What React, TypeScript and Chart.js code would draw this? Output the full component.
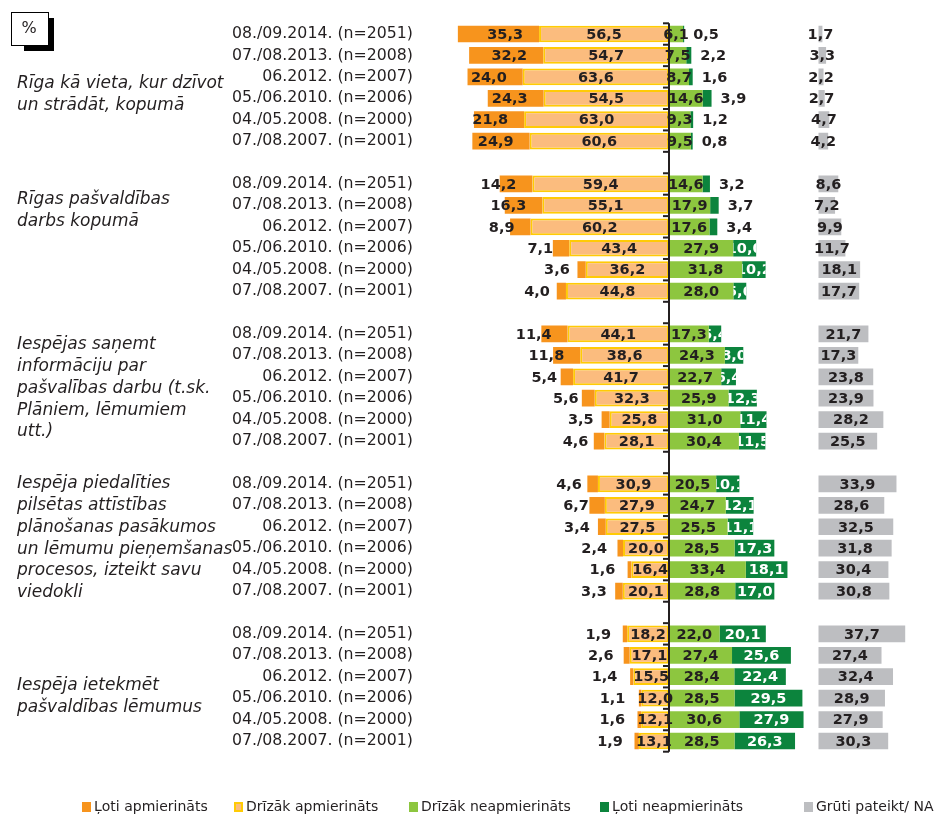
import React, { useEffect, useRef } from 'react';
import { Chart, registerables } from 'chart.js';

Chart.register(...registerables);

// ---------- DATA ----------
const periods = [
  '08./09.2014. (n=2051)',
  '07./08.2013. (n=2008)',
  '06.2012. (n=2007)',
  '05./06.2010. (n=2006)',
  '04./05.2008. (n=2000)',
  '07./08.2007. (n=2001)',
];

const groupNames = [
  ['Rīga kā vieta, kur dzīvot', 'un strādāt, kopumā'],
  ['Rīgas pašvaldības', 'darbs kopumā'],
  ['Iespējas saņemt', 'informāciju par', 'pašvalības darbu (t.sk.', 'Plāniem, lēmumiem', 'utt.)'],
  ['Iespēja piedalīties', 'pilsētas attīstības', 'plānošanas pasākumos', 'un lēmumu pieņemšanas', 'procesos, izteikt savu', 'viedokli'],
  ['Iespēja ietekmēt', 'pašvaldības lēmumus'],
];

const seriesNames = [
  'Ļoti apmierināts',
  'Drīzāk apmierināts',
  'Drīzāk neapmierināts',
  'Ļoti neapmierināts',
  'Grūti pateikt/ NA',
];

// rows per group: 2014, 2013, 2012, 2010, 2008, 2007
const veryS = [
  35.3, 32.2, 24.0, 24.3, 21.8, 24.9,
  14.2, 16.3, 8.9, 7.1, 3.6, 4.0,
  11.4, 11.8, 5.4, 5.6, 3.5, 4.6,
  4.6, 6.7, 3.4, 2.4, 1.6, 3.3,
  1.9, 2.6, 1.4, 1.1, 1.6, 1.9,
];
const ratherS = [
  56.5, 54.7, 63.6, 54.5, 63.0, 60.6,
  59.4, 55.1, 60.2, 43.4, 36.2, 44.8,
  44.1, 38.6, 41.7, 32.3, 25.8, 28.1,
  30.9, 27.9, 27.5, 20.0, 16.4, 20.1,
  18.2, 17.1, 15.5, 12.0, 12.1, 13.1,
];
const ratherD = [
  6.1, 7.5, 8.7, 14.6, 9.3, 9.5,
  14.6, 17.9, 17.6, 27.9, 31.8, 28.0,
  17.3, 24.3, 22.7, 25.9, 31.0, 30.4,
  20.5, 24.7, 25.5, 28.5, 33.4, 28.8,
  22.0, 27.4, 28.4, 28.5, 30.6, 28.5,
];
const veryD = [
  0.5, 2.2, 1.6, 3.9, 1.2, 0.8,
  3.2, 3.7, 3.4, 10.0, 10.2, 5.6,
  5.4, 8.0, 6.4, 12.3, 11.4, 11.5,
  10.1, 12.1, 11.1, 17.3, 18.1, 17.0,
  20.1, 25.6, 22.4, 29.5, 27.9, 26.3,
];
const hard = [
  1.7, 3.3, 2.2, 2.7, 4.7, 4.2,
  8.6, 7.2, 9.9, 11.7, 18.1, 17.7,
  21.7, 17.3, 23.8, 23.9, 28.2, 25.5,
  33.9, 28.6, 32.5, 31.8, 30.4, 30.8,
  37.7, 27.4, 32.4, 28.9, 27.9, 30.3,
];

// ---------- LAYOUT / STYLE ----------
const COLORS = ['#F7941D', '#FBBC7E', '#8DC63F', '#0C843D', '#BDBEC1'];
const YELLOW = '#FFCB05';
const TEXT = '#231F20';
const HARD_START = 65; // x-position (in % units) where the "Grūti pateikt" column begins
const groupLabelOffsets = [50, 16, 11, 0, 52];
const LINE_H = 21.75;
const legendX = [82, 234, 409, 600, 804];

// categories: 6 rows per group + empty spacer row between groups
const labels: string[] = [];
const rowOf: number[] = [];
groupNames.forEach((_, g) => {
  periods.forEach((p, r) => {
    labels.push(p);
    rowOf.push(g * 6 + r);
  });
  if (g < groupNames.length - 1) {
    labels.push('');
    rowOf.push(-1);
  }
});

const build = (fn: (i: number) => [number, number]) =>
  rowOf.map((i) => (i < 0 ? null : fn(i)));

const fmt = (v: number) => v.toFixed(1).replace('.', ',');

const valueFont = "bold 14.5px 'DejaVu Sans'";

const labelPlugin = {
  id: 'valueLabels',
  afterDatasetsDraw(chart: any) {
    const ctx = chart.ctx as CanvasRenderingContext2D;
    const metas = [0, 1, 2, 3, 4].map((i) => chart.getDatasetMeta(i));
    const x0 = chart.scales.x.getPixelForValue(0);
    const area = chart.chartArea;
    const yS = chart.scales.y;
    const step = yS.getPixelForValue(1) - yS.getPixelForValue(0);

    // centre line with ticks
    ctx.save();
    ctx.strokeStyle = TEXT;
    ctx.lineWidth = 2;
    ctx.beginPath();
    ctx.moveTo(x0, area.top);
    ctx.lineTo(x0, area.bottom);
    ctx.stroke();
    groupNames.forEach((_, g) => {
      const yc = yS.getPixelForValue(g * 7);
      for (let r = 0; r <= 6; r++) {
        const y = yc - step / 2 + r * step;
        ctx.beginPath();
        ctx.moveTo(x0 - 6, y);
        ctx.lineTo(x0, y);
        ctx.stroke();
      }
    });
    ctx.restore();

    ctx.save();
    ctx.font = valueFont;
    ctx.textBaseline = 'middle';
    const series = [veryS, ratherS, ratherD, veryD, hard];
    rowOf.forEach((ri, ci) => {
      if (ri < 0) return;
      const els = metas.map((m) => m.data[ci]);
      const rect = (el: any) => ({
        l: Math.min(el.x, el.base),
        r: Math.max(el.x, el.base),
        y: el.y,
        h: el.height,
      });
      const r1 = rect(els[1]);
      const r2 = rect(els[2]);
      const r3 = rect(els[3]);
      const r4 = rect(els[4]);
      const ty = r1.y + 1;
      ctx.fillStyle = TEXT;
      // very satisfied
      ctx.textAlign = 'right';
      ctx.fillText(fmt(series[0][ri]), r1.l - 16, ty);
      // rather satisfied
      ctx.textAlign = 'center';
      ctx.fillText(fmt(series[1][ri]), (r1.l + r1.r) / 2, ty);
      // rather dissatisfied
      ctx.fillText(fmt(series[2][ri]), (r2.l + r2.r) / 2, ty);
      // very dissatisfied
      const v3 = series[3][ri];
      if (v3 >= 5) {
        ctx.save();
        ctx.beginPath();
        ctx.rect(r3.l, r3.y - r3.h / 2, r3.r - r3.l, r3.h);
        ctx.clip();
        ctx.fillStyle = '#FFFFFF';
        ctx.fillText(fmt(v3), (r3.l + r3.r) / 2, ty);
        ctx.restore();
      } else {
        ctx.textAlign = 'left';
        ctx.fillText(fmt(v3), r3.r + 9, ty);
      }
      // hard to say
      ctx.textAlign = 'center';
      ctx.fillStyle = TEXT;
      ctx.fillText(fmt(series[4][ri]), (r4.l + r4.r) / 2, ty);
    });
    ctx.restore();
  },
  afterDraw(chart: any) {
    const ctx = chart.ctx as CanvasRenderingContext2D;
    const yS = chart.scales.y;
    // group names
    ctx.save();
    ctx.fillStyle = TEXT;
    ctx.font = "italic 17px 'DejaVu Sans'";
    ctx.textAlign = 'left';
    ctx.textBaseline = 'middle';
    groupNames.forEach((lines, g) => {
      const y0 = yS.getPixelForValue(g * 7) + groupLabelOffsets[g];
      lines.forEach((t, k) => ctx.fillText(t, 17, y0 + k * LINE_H));
    });
    ctx.restore();

    // % box
    ctx.save();
    ctx.fillStyle = '#000';
    ctx.fillRect(24, 18, 30, 33);
    ctx.fillStyle = '#fff';
    ctx.fillRect(11, 12, 38, 34);
    ctx.strokeStyle = '#000';
    ctx.lineWidth = 1;
    ctx.strokeRect(11.5, 12.5, 37, 33);
    ctx.fillStyle = TEXT;
    ctx.font = "16px 'DejaVu Sans'";
    ctx.textAlign = 'center';
    ctx.textBaseline = 'middle';
    ctx.fillText('%', 29, 29);
    ctx.restore();

    // legend
    ctx.save();
    ctx.font = "14px 'DejaVu Sans'";
    ctx.textAlign = 'left';
    ctx.textBaseline = 'middle';
    seriesNames.forEach((name, i) => {
      const x = legendX[i];
      ctx.fillStyle = i === 1 ? YELLOW : COLORS[i];
      ctx.fillRect(x, 802, 9, 10);
      if (i === 1) {
        ctx.fillStyle = COLORS[1];
        ctx.fillRect(x + 2, 804, 5, 6);
      }
      ctx.fillStyle = TEXT;
      ctx.fillText(name, x + 12, 807);
    });
    ctx.restore();
  },
};

export default function App() {
  const ref = useRef<HTMLCanvasElement>(null);
  useEffect(() => {
    document.body.style.margin = '0';
    const common = {
      grouped: false,
      barPercentage: 0.78,
      categoryPercentage: 1,
      borderSkipped: false,
    };
    const chart = new Chart(ref.current as HTMLCanvasElement, {
      type: 'bar',
      data: {
        labels,
        datasets: [
          { ...common, label: seriesNames[0], backgroundColor: COLORS[0], borderWidth: 0,
            data: build((i) => [-(veryS[i] + ratherS[i]), -ratherS[i]]) },
          { ...common, label: seriesNames[1], backgroundColor: COLORS[1], borderColor: YELLOW, borderWidth: 2,
            data: build((i) => [-ratherS[i], 0]) },
          { ...common, label: seriesNames[2], backgroundColor: COLORS[2], borderWidth: 0,
            data: build((i) => [0, ratherD[i]]) },
          { ...common, label: seriesNames[3], backgroundColor: COLORS[3], borderWidth: 0,
            data: build((i) => [ratherD[i], ratherD[i] + veryD[i]]) },
          { ...common, label: seriesNames[4], backgroundColor: COLORS[4], borderWidth: 0,
            data: build((i) => [HARD_START, HARD_START + hard[i]]) },
        ] as any,
      },
      options: {
        indexAxis: 'y',
        animation: false,
        responsive: false,
        maintainAspectRatio: false,
        layout: { padding: { left: 0, right: 5.5, top: 23.3, bottom: 62.3 } },
        scales: {
          x: { type: 'linear', min: -100, max: 115, display: false },
          y: {
            type: 'category',
            grid: { display: false, drawTicks: false },
            border: { display: false },
            ticks: {
              autoSkip: false,
              padding: 26,
              color: TEXT,
              font: { family: "'DejaVu Sans'", size: 15.75 },
            },
            afterFit: (s: any) => {
              s.width = 439;
              s.paddingTop = 0;
              s.paddingBottom = 0;
            },
          },
        },
        plugins: {
          legend: { display: false },
          tooltip: { enabled: false },
        },
      } as any,
      plugins: [labelPlugin],
    });
    return () => chart.destroy();
  }, []);
  return (
    <div style={{ width: 939, height: 814, background: '#fff' }}>
      <canvas ref={ref} width={939} height={814} style={{ display: 'block', width: 939, height: 814 }} />
    </div>
  );
}
